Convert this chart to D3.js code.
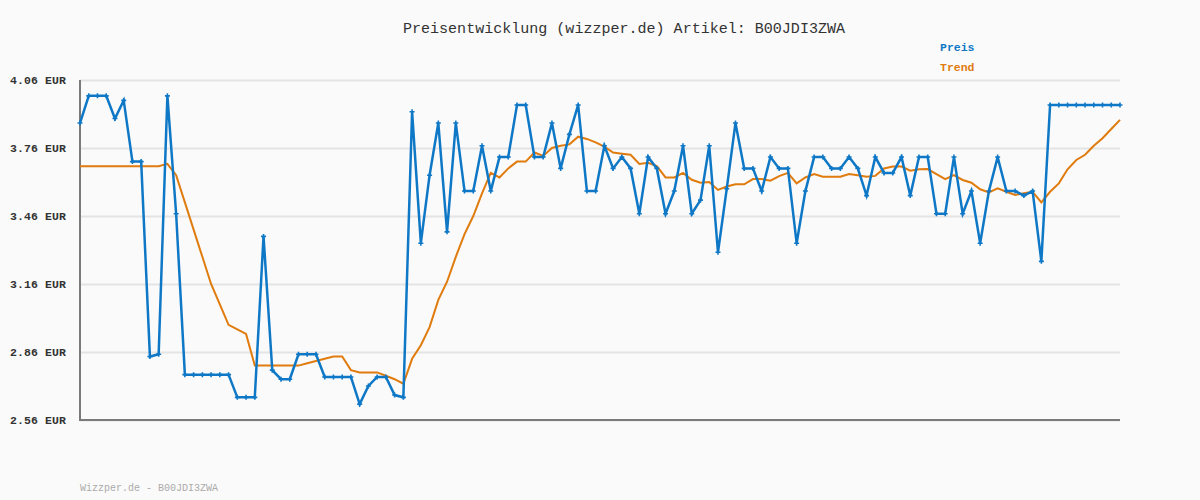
<!DOCTYPE html>
<html><head><meta charset="utf-8">
<script src="https://cdn.jsdelivr.net/npm/d3@7"></script>
<style>html,body{margin:0;padding:0;background:#fafafa;}svg{display:block;}</style>
</head><body>
<svg id="c" width="1200" height="500"></svg>
<script>
const title = "Preisentwicklung (wizzper.de) Artikel: B00JDI3ZWA";
const footer = "Wizzper.de - B00JDI3ZWA";
const seriesNames = ["Preis", "Trend"];
const yTicks = [2.56, 2.86, 3.16, 3.46, 3.76, 4.06];
const preis = [
 3.87,3.99,3.99,3.99,3.89,3.97,3.70,3.70,2.84,2.85,
 3.99,3.47,2.76,2.76,2.76,2.76,2.76,2.76,2.66,2.66,
 2.66,3.37,2.78,2.74,2.74,2.85,2.85,2.85,2.75,2.75,
 2.75,2.75,2.63,2.71,2.75,2.75,2.67,2.66,3.92,3.34,
 3.64,3.87,3.39,3.87,3.57,3.57,3.77,3.57,3.72,3.72,
 3.95,3.95,3.72,3.72,3.87,3.67,3.82,3.95,3.57,3.57,
 3.77,3.67,3.72,3.67,3.47,3.72,3.67,3.47,3.57,3.77,
 3.47,3.53,3.77,3.30,3.58,3.87,3.67,3.67,3.57,3.72,
 3.67,3.67,3.34,3.57,3.72,3.72,3.67,3.67,3.72,3.67,
 3.55,3.72,3.65,3.65,3.72,3.55,3.72,3.72,3.47,3.47,
 3.72,3.47,3.57,3.34,3.57,3.72,3.57,3.57,3.55,3.57,
 3.26,3.95,3.95,3.95,3.95,3.95,3.95,3.95,3.95,3.95
];
const trend = [
 3.68,3.68,3.68,3.68,3.68,3.68,3.68,3.68,3.68,3.68,
 3.69,3.64,3.52,3.40,3.28,3.16,3.07,2.98,2.96,2.94,
 2.80,2.80,2.80,2.80,2.80,2.80,2.81,2.82,2.83,2.84,
 2.84,2.78,2.77,2.77,2.77,2.755,2.74,2.72,2.83,2.89,
 2.97,3.09,3.17,3.28,3.38,3.46,3.56,3.65,3.63,3.67,
 3.70,3.70,3.74,3.725,3.76,3.77,3.776,3.81,3.80,3.785,
 3.766,3.74,3.735,3.73,3.69,3.695,3.68,3.63,3.63,3.65,
 3.62,3.607,3.61,3.575,3.59,3.60,3.60,3.623,3.623,3.616,
 3.636,3.65,3.604,3.63,3.645,3.633,3.633,3.633,3.645,3.64,
 3.633,3.637,3.67,3.678,3.678,3.66,3.666,3.667,3.645,3.623,
 3.64,3.619,3.607,3.578,3.564,3.582,3.567,3.553,3.56,3.567,
 3.52,3.567,3.604,3.666,3.707,3.73,3.77,3.803,3.844,3.884
];
const colors = ["#0f78c6", "#e07b0e"];

const svg = d3.select("#c");
const mono = "'Liberation Mono','DejaVu Sans Mono',monospace";
const x = d3.scaleLinear().domain([0, preis.length - 1]).range([80, 1120]);
const y = d3.scaleLinear().domain([2.56, 4.06]).range([420, 80]);

// grid
const grid = svg.append("g").attr("transform", "translate(80,0)")
  .call(d3.axisLeft(y).tickValues(yTicks).tickSize(-1040).tickFormat(""));
grid.select(".domain").remove();
grid.selectAll("line").attr("stroke", "#e4e4e4").attr("stroke-width", 2);

// y labels
const ax = svg.append("g").attr("transform", "translate(80,0)")
  .call(d3.axisLeft(y).tickValues(yTicks).tickSize(0).tickPadding(14)
    .tickFormat(d => d.toFixed(2) + " EUR"));
ax.select(".domain").remove();
ax.selectAll("text").attr("font-family", mono).attr("font-size", 11.5)
  .attr("font-weight", "bold").attr("fill", "#333").attr("letter-spacing", 0.1);

// axis lines
svg.append("line").attr("x1", 80).attr("x2", 80).attr("y1", 80).attr("y2", 421)
  .attr("stroke", "#7a7a7a").attr("stroke-width", 2);
svg.append("line").attr("x1", 79).attr("x2", 1120).attr("y1", 420).attr("y2", 420)
  .attr("stroke", "#7a7a7a").attr("stroke-width", 2);

// trend line
svg.append("path").datum(trend)
  .attr("d", d3.line().x((d, i) => x(i)).y(d => y(d)))
  .attr("fill", "none").attr("stroke", colors[1]).attr("stroke-width", 2);

// preis line
svg.append("path").datum(preis)
  .attr("d", d3.line().x((d, i) => x(i)).y(d => y(d)))
  .attr("fill", "none").attr("stroke", colors[0]).attr("stroke-width", 2.5);

svg.append("g").selectAll("path").data(preis).join("path")
  .attr("d", (d, i) => {
    const px = x(i), py = y(d);
    return `M${px - 2.5},${py}h5M${px},${py - 2.5}v5`;
  })
  .attr("stroke", colors[0]).attr("stroke-width", 1.6);

// title
svg.append("text").attr("x", 624).attr("y", 33).attr("text-anchor", "middle")
  .attr("font-family", mono).attr("font-size", 14).attr("fill", "#333")
  .attr("textLength", 442).attr("lengthAdjust", "spacingAndGlyphs")
  .text(title);

// legend
seriesNames.forEach((n, i) => {
  svg.append("text").attr("x", 940).attr("y", 51 + i * 20)
    .attr("font-family", mono).attr("font-size", 11.5).attr("font-weight", "bold")
    .attr("fill", colors[i]).text(n);
});

// footer
svg.append("text").attr("x", 80).attr("y", 491)
  .attr("font-family", mono).attr("font-size", 10).attr("fill", "#aaa")
  .text(footer);
</script>
</body></html>
